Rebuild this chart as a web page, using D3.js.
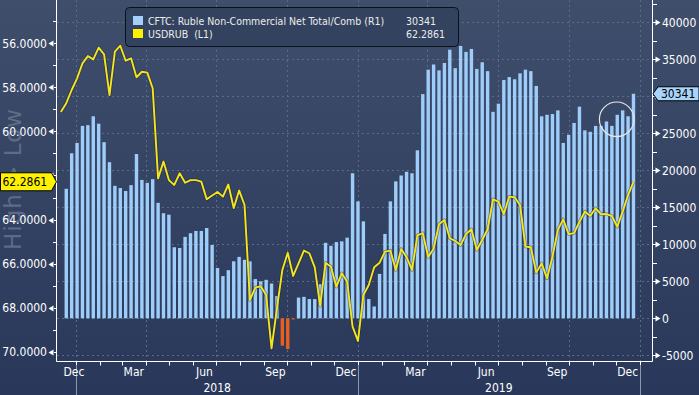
<!DOCTYPE html>
<html>
<head>
<meta charset="utf-8">
<script src="https://cdn.jsdelivr.net/npm/d3@7"></script>
<style>
  body { margin: 0; background: #2f3e5b; }
  svg { display: block; font-family: "DejaVu Sans Condensed", "DejaVu Sans", sans-serif; }
</style>
</head>
<body>
<svg id="chart"></svg>
<script>
// weekly dates (Tuesdays), first one only carries the USDRUB point
var firstWeek = new Date(2017, 11, 12);
var lastWeek = new Date(2019, 11, 24);
var weeks = d3.timeTuesday.range(firstWeek, d3.timeDay.offset(lastWeek, 1));

// CFTC Ruble non-commercial net (right axis)
var cftc = [null,
  17500, 22300, 23700, 26000, 26100, 27300, 26300, 23800, 21100, 17900,
  17600, 17200, 18000, 22200, 18700, 18300, 18800, 15600, 14200, 14000,
  9600, 9500, 11000, 11500, 11800, 11800, 12200, 9900, 6800, 5700,
  6500, 7700, 8300, 7900, 7700, 5300, 5000, 5200, 4700, 3000,
  -3700, -4150, -150, 2800, 2900, 2600, 2600, 4600, 10200, 9800,
  10300, 10400, 10900, 19600, 15800, 13100, 2600, 1600, 6000, 11400,
  15800, 18500, 19300, 19800, 19600, 22700, 30300, 33600, 34300, 33500,
  34500, 36300, 33800, 36800, 36000, 36400, 33700, 34600, 33400, 27900,
  29000, 32200, 32600, 32300, 33100, 33600, 33400, 31400, 27300, 27500,
  27600, 28100, 23700, 24800, 26400, 28600, 25400, 25200, 26000, 26000,
  26600, 26000, 27500, 28100, 27300, 30341];

// USDRUB (left axis, inverted)
var usdrub = [
  59.12, 58.72, 58.12, 57.59, 56.91, 56.58, 56.73, 56.20, 56.50, 58.35,
  56.38, 56.11, 56.79, 56.68, 57.54, 57.29, 57.33, 58.04, 62.13, 61.37,
  62.21, 62.43, 61.90, 62.33, 62.21, 62.21, 62.28, 63.08, 62.91, 62.75,
  62.96, 62.41, 63.48, 62.68, 63.34, 67.65, 67.09, 67.03, 67.43, 69.85,
  68.03, 66.29, 65.51, 66.56, 65.99, 65.41, 65.53, 66.17, 67.92, 65.96,
  66.14, 67.05, 66.44, 66.82, 68.86, 69.51, 67.43, 66.97, 66.17, 65.96,
  65.46, 65.41, 66.29, 65.34, 65.71, 66.29, 64.72, 64.62, 65.70, 65.33,
  64.21, 64.02, 64.85, 64.97, 65.16, 64.66, 64.44, 65.38, 64.93, 64.44,
  63.08, 63.19, 63.75, 62.96, 62.99, 63.34, 65.23, 65.26, 66.41, 65.99,
  66.67, 65.69, 64.47, 63.99, 64.66, 64.62, 64.10, 63.64, 63.84, 63.49,
  63.76, 63.75, 63.84, 64.33, 63.64, 62.89, 62.2861];

var leftTicks = [56, 58, 60, 62, 64, 66, 68, 70];
var leftMinor = [55, 57, 59, 61, 63, 65, 67, 69];
var rightTicks = [-5000, 0, 5000, 10000, 15000, 20000, 25000, 30000, 35000, 40000];
var rightMinor = [-2500, 2500, 7500, 12500, 17500, 22500, 27500, 32500, 37500, 42500];
var legendNames = ["CFTC: Ruble Non-Commercial Net Total/Comb (R1)", "USDRUB  (L1)"];
var legendValues = ["30341", "62.2861"];

var W = 699, H = 395;
var L = 57, R = 652, T = 0, B = 361;

var svg = d3.select("#chart").attr("width", W).attr("height", H);

var defs = svg.append("defs");
var grad = defs.append("linearGradient").attr("id", "bg")
  .attr("x1", 0).attr("y1", 0).attr("x2", 0).attr("y2", 1);
grad.append("stop").attr("offset", "0%").attr("stop-color", "#3f4e6b");
grad.append("stop").attr("offset", "100%").attr("stop-color", "#29385a");
defs.append("clipPath").attr("id", "plot").append("rect")
  .attr("x", L).attr("y", T).attr("width", R - L).attr("height", B - T);

svg.append("rect").attr("width", W).attr("height", H).attr("fill", "url(#bg)");

var x = d3.scaleTime().domain([new Date(2017, 11, 7), new Date(2020, 0, 17)]).range([L, R]);
var yL = d3.scaleLinear().domain([56, 70]).range([43.3, 351.7]);
var yR = d3.scaleLinear().domain([0, 40000]).range([318.3, 22.3]);

var lastRub = usdrub[usdrub.length - 1];
var lastCftc = cftc[cftc.length - 1];

// grid
var grid = svg.append("g")
  .attr("stroke", "#5a6b87").attr("stroke-width", 1).attr("stroke-dasharray", "2,3");
grid.selectAll(".gh").data(rightTicks).enter().append("line")
  .attr("x1", L).attr("x2", R)
  .attr("y1", function(d) { return Math.round(yR(d)) + 0.5; })
  .attr("y2", function(d) { return Math.round(yR(d)) + 0.5; });
var quarters = d3.timeMonth.every(3).range(x.domain()[0], x.domain()[1]);
grid.selectAll(".gv").data(quarters).enter().append("line")
  .attr("y1", T).attr("y2", B)
  .attr("x1", function(d) { return Math.round(x(d)) + 0.5; })
  .attr("x2", function(d) { return Math.round(x(d)) + 0.5; });

// bars
var barData = weeks.map(function(d, i) { return {date: d, v: cftc[i]}; })
  .filter(function(d) { return d.v != null; });
var bw = 3.4;
svg.append("g").attr("clip-path", "url(#plot)")
  .selectAll("rect").data(barData).enter().append("rect")
  .attr("x", function(d) { return x(d.date) - bw / 2; })
  .attr("width", bw)
  .attr("y", function(d) { return yR(Math.max(0, d.v)); })
  .attr("height", function(d) { return Math.abs(yR(d.v) - yR(0)); })
  .attr("fill", function(d) { return d.v < 0 ? "#e8601c" : "#9ecdfa"; });

// line
var lineData = weeks.map(function(d, i) { return {date: d, v: usdrub[i]}; });
var line = d3.line().x(function(d) { return x(d.date); }).y(function(d) { return yL(d.v); });
var lg = svg.append("g").attr("clip-path", "url(#plot)");
lg.append("path").datum(lineData).attr("d", line)
  .attr("fill", "none").attr("stroke", "#1a2236").attr("stroke-opacity", 0.45)
  .attr("stroke-width", 3.4).attr("stroke-linejoin", "round");
lg.append("path").datum(lineData).attr("d", line)
  .attr("fill", "none").attr("stroke", "#f4e51c")
  .attr("stroke-width", 1.9).attr("stroke-linejoin", "round");

// watermark
svg.append("text")
  .attr("transform", "translate(20.5,179) rotate(-90)")
  .attr("text-anchor", "middle")
  .attr("font-family", "DejaVu Sans")
  .attr("font-size", 23).attr("letter-spacing", 1)
  .attr("fill", "#6f7e97").attr("fill-opacity", 0.7)
  .text("High > Low");

// legend
var leg = svg.append("g");
leg.append("rect").attr("x", 125.5).attr("y", 7.5).attr("width", 333).attr("height", 39)
  .attr("rx", 4).attr("fill", "#33425e").attr("stroke", "#0b111c");
var legColors = ["#a4d0fb", "#fff200"];
legendNames.forEach(function(name, i) {
  var yy = 16 + i * 13;
  leg.append("rect").attr("x", 133).attr("y", yy).attr("width", 10).attr("height", 9)
    .attr("fill", legColors[i]);
  leg.append("text").attr("x", 148).attr("y", yy + 8.8)
    .attr("font-size", 10.5).attr("fill", "#ececec")
    .style("white-space", "pre").text(name);
  leg.append("text").attr("x", 406).attr("y", yy + 8.8)
    .attr("font-size", 10.5).attr("fill", "#ececec").text(legendValues[i]);
});

// circle annotation
svg.append("circle").attr("cx", 616.7).attr("cy", 119.3).attr("r", 17.3)
  .attr("fill", "none").attr("stroke", "#e6e6e6").attr("stroke-width", 1.2);

// axis frame
var ax = svg.append("g").attr("stroke", "#ffffff").attr("stroke-width", 1);
ax.append("line").attr("x1", L - 0.5).attr("x2", L - 0.5).attr("y1", T).attr("y2", B + 0.5);
ax.append("line").attr("x1", R + 0.5).attr("x2", R + 0.5).attr("y1", T).attr("y2", B + 0.5);
ax.append("line").attr("x1", L - 0.5).attr("x2", R + 0.5).attr("y1", B + 0.5).attr("y2", B + 0.5);

// left axis
var la = svg.append("g");
la.selectAll(".lm").data(leftMinor).enter().append("line")
  .attr("x1", 53).attr("x2", L)
  .attr("y1", function(d) { return Math.round(yL(d)) + 0.5; })
  .attr("y2", function(d) { return Math.round(yL(d)) + 0.5; })
  .attr("stroke", "#fff");
la.selectAll(".lt").data(leftTicks).enter().append("path")
  .attr("d", function(d) {
    var y = Math.round(yL(d)) + 0.5;
    return "M" + L + "," + (y - 0.5) + "H53V" + (y + 0.5) + "H" + L + "Z" +
      "M48.5," + y + "L53.5," + (y - 3) + "V" + (y + 3) + "Z";
  })
  .attr("fill", "#fff");
// labels under the last-value tag are hidden, as in the terminal
la.selectAll("text")
  .data(leftTicks.filter(function(d) { return Math.abs(yL(d) - yL(lastRub)) > 14; }))
  .enter().append("text")
  .attr("x", 47).attr("y", function(d) { return yL(d); }).attr("dy", "0.36em")
  .attr("text-anchor", "end").attr("font-size", 12).attr("fill", "#fff")
  .text(function(d) { return d3.format(".4f")(d); });

// right axis
var ra = svg.append("g");
ra.selectAll(".rm").data(rightMinor).enter().append("line")
  .attr("x1", R).attr("x2", 657)
  .attr("y1", function(d) { return Math.round(yR(d)) + 0.5; })
  .attr("y2", function(d) { return Math.round(yR(d)) + 0.5; })
  .attr("stroke", "#fff");
ra.selectAll(".rt").data(rightTicks).enter().append("path")
  .attr("d", function(d) {
    var y = Math.round(yR(d)) + 0.5;
    return "M" + R + "," + (y - 0.5) + "H656V" + (y + 0.5) + "H" + R + "Z" +
      "M655.5," + (y - 3) + "L660.5," + y + "L655.5," + (y + 3) + "Z";
  })
  .attr("fill", "#fff");
ra.selectAll("text")
  .data(rightTicks.filter(function(d) { return Math.abs(yR(d) - yR(lastCftc)) > 12; }))
  .enter().append("text")
  .attr("x", 662).attr("y", function(d) { return yR(d); }).attr("dy", "0.36em")
  .attr("font-size", 12).attr("fill", "#fff")
  .text(function(d) { return d; });

// bottom axis
var months = d3.timeMonth.range(d3.timeMonth.ceil(x.domain()[0]), x.domain()[1]);
var ba = svg.append("g");
ba.selectAll(".mt").data(months).enter().append("line")
  .attr("x1", function(d) { return Math.round(x(d)) + 0.5; })
  .attr("x2", function(d) { return Math.round(x(d)) + 0.5; })
  .attr("y1", B).attr("y2", B + 4.5)
  .attr("stroke", "#fff");
var years = months.filter(function(d) { return d.getMonth() === 0; });
ba.selectAll(".yt").data(years).enter().append("line")
  .attr("x1", function(d) { return Math.round(x(d)) + 0.5; })
  .attr("x2", function(d) { return Math.round(x(d)) + 0.5; })
  .attr("y1", B + 4).attr("y2", H)
  .attr("stroke", "#8a97ad");
var labelMonths = d3.timeMonth.range(d3.timeMonth.floor(x.domain()[0]), x.domain()[1])
  .filter(function(d) { return d.getMonth() % 3 === 2; });
ba.selectAll(".ml").data(labelMonths).enter().append("text")
  .attr("x", function(d) {
    var c = (x(d) + x(d3.timeMonth.offset(d, 1))) / 2;
    return Math.max(c, L + 17);
  })
  .attr("y", 375.5).attr("text-anchor", "middle")
  .attr("font-size", 12).attr("fill", "#fff")
  .text(d3.timeFormat("%b"));
var yearLabels = years.slice(0, -1);
ba.selectAll(".yl").data(yearLabels).enter().append("text")
  .attr("x", function(d) { return (x(d) + x(d3.timeYear.offset(d, 1))) / 2; })
  .attr("y", 391.5).attr("text-anchor", "middle")
  .attr("font-size", 12).attr("fill", "#fff")
  .text(d3.timeFormat("%Y"));

// last value tags
var ty = yL(lastRub);
svg.append("path")
  .attr("d", "M0.5," + (ty - 9) + "H51.5L56.5," + ty + "L51.5," + (ty + 9) + "H0.5Z")
  .attr("fill", "#fff200").attr("stroke", "#000");
svg.append("text").attr("x", 2.5).attr("y", ty).attr("dy", "0.36em")
  .attr("font-size", 12).attr("fill", "#000").text(d3.format(".4f")(lastRub));

var ry = yR(lastCftc);
svg.append("path")
  .attr("d", "M653," + ry + "L658," + (ry - 7) + "H699V" + (ry + 7) + "H658Z")
  .attr("fill", "#a8d4fb").attr("stroke", "#000");
svg.append("text").attr("x", 661).attr("y", ry).attr("dy", "0.36em")
  .attr("font-size", 12).attr("fill", "#000").text(lastCftc);
</script>
</body>
</html>
